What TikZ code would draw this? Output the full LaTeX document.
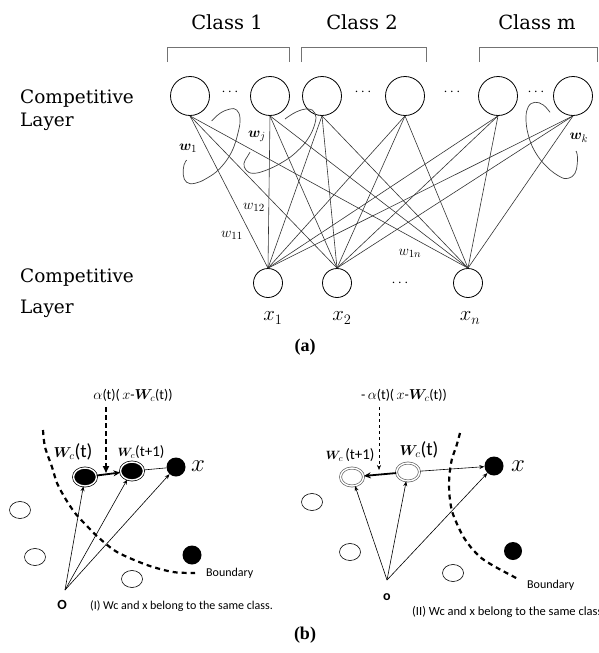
\documentclass[tikz,border=0pt]{standalone}
\usepackage[no-math]{fontspec}
\usepackage{bm}
\setmainfont{DejaVu Serif}
\newfontfamily\sansf{Carlito}
\newfontfamily\bserif{Liberation Serif}
\usetikzlibrary{arrows.meta,shapes.geometric}
\begin{document}
\begin{tikzpicture}[x=1pt,y=-1pt,
  topn/.style={circle,draw,line width=0.8pt,minimum size=39pt,inner sep=0pt},
  botn/.style={circle,draw,line width=0.8pt,minimum size=29pt,inner sep=0pt},
  conn/.style={line width=0.6pt,draw=black!80},
  loopc/.style={line width=0.7pt,draw=black!75},
  brk/.style={draw=black!55,line width=0.8pt},
  bigtxt/.style={font=\fontsize{18.5}{22}\selectfont,inner sep=0pt},
  classtxt/.style={font=\fontsize{19.5}{22}\selectfont,inner sep=0pt},
  wlab/.style={font=\fontsize{15}{18}\selectfont,inner sep=0pt},
  xlab/.style={font=\fontsize{21}{24}\selectfont,inner sep=0pt},
  dotsl/.style={font=\fontsize{14}{16}\selectfont,inner sep=0pt},
  capl/.style={font=\bserif\bfseries\fontsize{18}{20}\selectfont,inner sep=0pt},
  fring/.style={ellipse,draw=black,fill=black,double=white,double distance=1.4pt,line width=0.7pt,minimum width=23pt,minimum height=18pt,inner sep=0pt},
  oring/.style={ellipse,draw=black!60,double=white,double distance=1.4pt,line width=0.7pt,minimum width=23pt,minimum height=18pt,inner sep=0pt},
  bdot/.style={circle,fill=black,minimum size=19pt,inner sep=0pt},
  wdot/.style={ellipse,draw,line width=0.6pt,minimum width=21pt,minimum height=17pt,inner sep=0pt},
  vec/.style={line width=0.6pt,-{Stealth[length=5pt,width=4pt]}},
  thickarr/.style={line width=1.8pt,-{Stealth[length=7pt,width=6pt]}},
  bound/.style={line width=2.2pt,dash pattern=on 5pt off 4pt},
  bdtxt/.style={font=\sansf\fontsize{12}{14}\selectfont,inner sep=0pt},
  formula/.style={font=\fontsize{14}{16}\selectfont,inner sep=0pt}
]
\useasboundingbox (0,0) rectangle (598,653);

% ---------------- (a) ----------------
\node[classtxt] (c1) at (227,22) {Class 1};
\node[classtxt] (c2) at (362,22) {Class 2};
\node[classtxt] (cm) at (537,22) {Class m};
\draw[brk] (167,62) -- (167,47) -- (289,47) -- (289,62);
\draw[brk] (301,62) -- (301,47) -- (426,47) -- (426,62);
\draw[brk] (479,62) -- (479,47) -- (597,47) -- (597,62);

\node[bigtxt,anchor=base west] (lt1) at (20,103) {Competitive};
\node[bigtxt,anchor=base west] (lt2) at (20,126) {Layer};
\node[bigtxt,anchor=base west] (lb1) at (20,282) {Competitive};
\node[bigtxt,anchor=base west] (lb2) at (20,313) {Layer};

\node[topn] (t1) at (190,96) {};
\node[topn] (t2) at (270,96) {};
\node[topn] (t3) at (322,96) {};
\node[topn] (t4) at (405,96) {};
\node[topn] (t5) at (498,96) {};
\node[topn] (t6) at (573,96) {};
\node[dotsl] (d1) at (230,92) {$\cdots$};
\node[dotsl] (d2) at (363,92) {$\cdots$};
\node[dotsl] (d3) at (452,92) {$\cdots$};
\node[dotsl] (d4) at (536,92) {$\cdots$};

\node[botn] (b1) at (268,283) {};
\node[botn] (b2) at (337,283) {};
\node[botn] (bn) at (468,283) {};
\node[dotsl] (d5) at (400,283) {$\cdots$};

\foreach \t in {t1,t2,t3,t4,t5,t6}
  \foreach \b in {b1,b2,bn}
    \draw[conn] (\t.south) -- (\b.north);

\draw[loopc] plot[smooth,tension=0.7] coordinates {(211.7,121) (220,113.3) (230,109) (236.7,110) (240,118.3) (238.3,131.7) (231.7,151.7) (220,168.3) (206.7,178.3) (195,183.3) (186.7,182.3) (183.3,175) (184,165) (186.7,160)};
\draw[loopc] plot[smooth,tension=0.7] coordinates {(285,119) (296.7,111.7) (308.3,109) (315,113.3) (315,123.3) (308.3,138.3) (296.7,151.7) (283.3,161.7) (266.7,170) (253.3,173.3) (246,170) (244,163.3) (247.3,156.7) (250,152.3)};
\draw[loopc] plot[smooth,tension=0.7] coordinates {(550,112.3) (543.3,105) (535,102.3) (528.3,106.7) (526,118.3) (528.3,135) (535,151.7) (546.7,166.7) (560,176.7) (568.3,178.3) (575,173.3) (577.3,163.3) (577.3,155) (576,151)};

\node[wlab] (w1) at (188,148) {$\bm{w}_1$};
\node[wlab] (wj) at (257,136) {$\bm{w}_j$};
\node[wlab] (wk) at (579,138) {$\bm{w}_k$};
\node[wlab] (w11) at (232,235) {$w_{11}$};
\node[wlab] (w12) at (254,207) {$w_{12}$};
\node[wlab] (w1n) at (410,253) {$w_{1n}$};

\node[xlab] (x1) at (273,318) {$x_1$};
\node[xlab] (x2) at (342,318) {$x_2$};
\node[xlab] (xn) at (470,318) {$x_n$};

\node[capl] (capa) at (305,347) {(a)};

% ---------------- (b) left ----------------
\node[formula] (lform) at (133,395) {$\alpha$\sansf(t)(\,$x$-$\bm{W}_c$(t))};
\node[fring] (lwt) at (85,477) {};
\node[fring] (lwt1) at (132,471) {};
\node[bdot] (lx) at (176,467) {};
\node[xlab,font=\fontsize{24}{26}\selectfont] (lxl) at (198,466) {$x$};
\node[font=\fontsize{15}{18}\selectfont,inner sep=0pt] (lwtl) at (73,452) {$\bm{W}_c$\sansf\fontsize{19}{20}\selectfont(t)};
\node[font=\fontsize{13}{16}\selectfont,inner sep=0pt] (lwt1l) at (141,452) {$\bm{W}_c$\sansf\fontsize{15}{16}\selectfont(t+1)};

\node[wdot] (lw1) at (20,510) {};
\node[wdot] (lw2) at (35,557) {};
\node[wdot] (lw3) at (132,579) {};
\node[bdot] (lb) at (192,555) {};

\coordinate (lo) at (65,590);
\node[font=\sansf\bfseries\fontsize{14}{16}\selectfont,inner sep=0pt] (lol) at (62,605) {O};
\draw[vec] (lo) -- (lwt);
\draw[vec] (lo) -- (lwt1);
\draw[vec] (lo) -- (lx);
\draw[thickarr] (lwt) -- (lwt1);
\draw[line width=0.6pt] (lwt1) -- (lx);
\coordinate (lhit) at (106,473);
\draw[line width=1.6pt,dash pattern=on 5pt off 3pt,-{Triangle[length=7pt,width=6pt]}] (lform.south -| lhit) ++(0,6) -- (lhit);

\draw[bound] plot[smooth] coordinates {(43,430) (45,447) (52,467) (57,483) (65,498) (75,513) (87,526) (98,537) (117,552) (147,565) (173,572) (195,573)};
\node[bdtxt,anchor=west] (lbd) at (206,573) {Boundary};
\node[font=\sansf\fontsize{12}{14}\selectfont,inner sep=0pt,anchor=west] (lcap) at (90,606) {(I) Wc and x belong to the same class.};

% ---------------- (b) right ----------------
\node[formula] (rform) at (404,395) {\sansf-\,$\alpha$(t)(\,$x$-$\bm{W}_c$(t))};
\node[oring] (rwt1) at (352,477) {};
\node[oring] (rwt) at (408,472) {};
\node[bdot] (rx) at (494,466) {};
\node[xlab,font=\fontsize{24}{26}\selectfont] (rxl) at (518,466) {$x$};
\node[font=\fontsize{13}{16}\selectfont,inner sep=0pt] (rwt1l) at (350,455) {$\bm{W}_c$\,\sansf\fontsize{15}{16}\selectfont(t+1)};
\node[font=\fontsize{15}{18}\selectfont,inner sep=0pt] (rwtl) at (419,450) {$\bm{W}_c$\sansf\fontsize{19}{20}\selectfont(t)};

\node[wdot] (rw1) at (312,502) {};
\node[wdot] (rw2) at (350,552) {};
\node[wdot] (rw3) at (453,573) {};
\node[bdot,minimum size=18pt] (rb) at (513,551) {};

\coordinate (ro) at (387,580);
\node[font=\sansf\bfseries\fontsize{14}{16}\selectfont,inner sep=0pt] (rol) at (387,597) {o};
\draw[vec] (ro) -- (rwt1);
\draw[vec] (ro) -- (rwt);
\draw[vec] (ro) -- (rx);
\draw[thickarr] (rwt) -- (rwt1);
\draw[vec] (rwt) -- (rx);
\coordinate (rhit) at (379,470);
\draw[line width=0.6pt,dashed,-{Stealth[length=5pt,width=4pt]}] (rform.south -| rhit) ++(0,6) -- (rhit);

\draw[bound] plot[smooth] coordinates {(460,433) (456.7,445) (451.7,460) (449.3,476.7) (449.3,493.3) (451.7,510) (456.7,523.3) (463.3,536.7) (471.7,548.3) (481.7,558.3) (495,566.7) (516.7,578.3)};
\node[bdtxt,anchor=west] (rbd) at (527,585) {Boundary};
\node[font=\sansf\fontsize{12.5}{14}\selectfont,inner sep=0pt,anchor=west] (rcap) at (412,612) {(II) Wc and x belong to the same class};

\node[capl] (capb) at (305,635) {(b)};
\end{tikzpicture}
\end{document}
